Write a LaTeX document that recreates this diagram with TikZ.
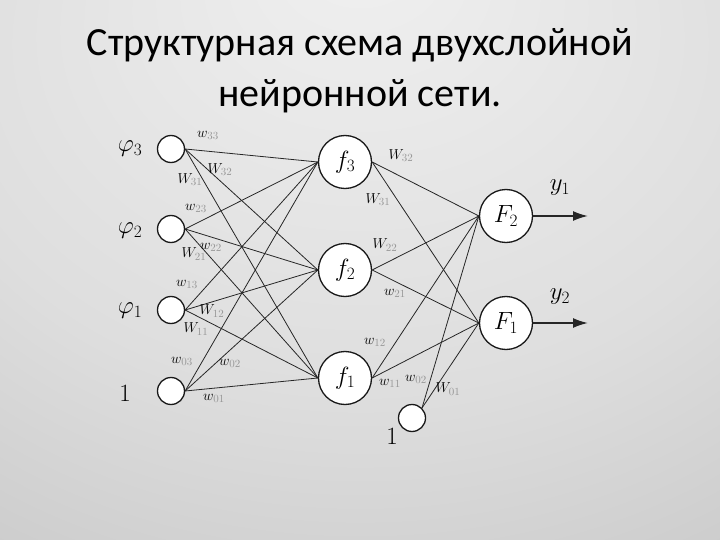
\documentclass[tikz,border=0pt]{standalone}
\usepackage{fontspec}
\usepackage{amsmath}
\usetikzlibrary{positioning,arrows.meta}
\newfontfamily\titleFont{Carlito}
\definecolor{bgLight}{RGB}{240,240,240}
\definecolor{bgDark}{RGB}{168,168,168}
\definecolor{faintText}{RGB}{150,150,150}
\pgfdeclareradialshading{slideBg}{\pgfpoint{0bp}{30bp}}{color(0bp)=(bgLight); color(30bp)=(bgLight!75!bgDark); color(80bp)=(bgDark)}
\tikzstyle{network} = [x = 1pt, y = -1pt]
\tikzstyle{smallNeuron} = [circle, draw=black!90, fill=white, minimum size=27pt, inner sep=0pt, line width=1.3pt]
\tikzstyle{bigNeuron} = [circle, draw=black!90, fill=white, minimum size=53pt, inner sep=0pt, line width=1.3pt]
\tikzstyle{synapse} = [color=black!85, line width=0.8pt]
\tikzstyle{outArrow} = [color=black!85, line width=1.8pt, -{Latex[length=15pt, width=10pt]}]
\tikzstyle{weightText} = [font=\fontsize{15}{17}\selectfont, inner sep=0pt]
\tikzstyle{inputText} = [font=\fontsize{23}{26}\selectfont, inner sep=0pt]
\tikzstyle{neuronText} = [font=\fontsize{25}{28}\selectfont]
\tikzstyle{titleText} = [font=\titleFont\fontsize{40}{48}\selectfont, inner sep=0pt]
\newcommand{\weightLabel}[4]{\node [weightText] (#1) at (#2) {$#3_{\textcolor{faintText}{#4}}$};}

\begin{document}
\begin{tikzpicture}[network]
  \useasboundingbox (0,0) rectangle (720,540);
  \shade [shading=slideBg] (0,0) rectangle (720,540);
  % title
  \node [titleText] (titleTop) at (360,45) {Структурная схема двухслойной};
  \node [titleText] (titleBottom) at (360,96) {нейронной сети.};
  % input layer
  \node [smallNeuron] (inThree) at (171,149) {};
  \node [smallNeuron] (inTwo) at (171,229) {};
  \node [smallNeuron] (inOne) at (171,310) {};
  \node [smallNeuron] (inZero) at (171,391) {};
  \node [inputText] (phiThree) at (130,149) {$\varphi_3$};
  \node [inputText] (phiTwo) at (130,231) {$\varphi_2$};
  \node [inputText] (phiOne) at (130,311) {$\varphi_1$};
  \node [inputText] (oneIn) at (125,393) {$1$};
  % hidden layer
  \node [bigNeuron, neuronText] (hidThree) at (345,162) {$f_3$};
  \node [bigNeuron, neuronText] (hidTwo) at (345,270) {$f_2$};
  \node [bigNeuron, neuronText] (hidOne) at (345,378) {$f_1$};
  \node [smallNeuron] (biasHid) at (412,418) {};
  \node [inputText] (oneHid) at (392,436) {$1$};
  % output layer
  \node [bigNeuron, neuronText] (outTwo) at (506,216) {$F_2$};
  \node [bigNeuron, neuronText] (outOne) at (506,323) {$F_1$};
  \coordinate (yOneEnd) at (588,216);
  \coordinate (yTwoEnd) at (588,323);
  \node [neuronText] (yOne) at (560,188) {$y_1$};
  \node [neuronText] (yTwo) at (560,297) {$y_2$};
  % connections
  \foreach \src in {inThree,inTwo,inOne,inZero} {
    \foreach \dst in {hidThree,hidTwo,hidOne} {
      \draw [synapse] (\src.east) -- (\dst.west);
    }
  }
  \foreach \src in {hidThree,hidTwo,hidOne} {
    \foreach \dst in {outTwo,outOne} {
      \draw [synapse] (\src.east) -- (\dst.west);
    }
  }
  \foreach \dst in {outTwo,outOne} {
    \draw [synapse] (biasHid.north east) -- (\dst.west);
  }
  \draw [outArrow] (outTwo.east) -- (yOneEnd);
  \draw [outArrow] (outOne.east) -- (yTwoEnd);
  % weights, first layer
  \weightLabel{wThreeThree}{208,135}{w}{33}
  \weightLabel{wThreeTwo}{220,170}{W}{32}
  \weightLabel{wThreeOne}{190,180}{W}{31}
  \weightLabel{wTwoThree}{196,208}{w}{23}
  \weightLabel{wTwoTwo}{211,247}{w}{22}
  \weightLabel{wTwoOne}{194,254}{W}{21}
  \weightLabel{wOneThree}{187,284}{w}{13}
  \weightLabel{wOneTwo}{212,311}{W}{12}
  \weightLabel{wOneOne}{196,329}{W}{11}
  \weightLabel{wZeroThree}{182,361}{w}{03}
  \weightLabel{wZeroTwo}{230,363}{w}{02}
  \weightLabel{wZeroOne}{214,398}{w}{01}
  % weights, second layer
  \weightLabel{vThreeTwo}{401,156}{W}{32}
  \weightLabel{vThreeOne}{378,200}{W}{31}
  \weightLabel{vTwoTwo}{385,245}{W}{22}
  \weightLabel{vTwoOne}{395,293}{w}{21}
  \weightLabel{vOneTwo}{375,342}{w}{12}
  \weightLabel{vOneOne}{390,383}{w}{11}
  \weightLabel{vZeroTwo}{416,379}{w}{02}
  \weightLabel{vZeroOne}{448,389}{W}{01}
\end{tikzpicture}
\end{document}
